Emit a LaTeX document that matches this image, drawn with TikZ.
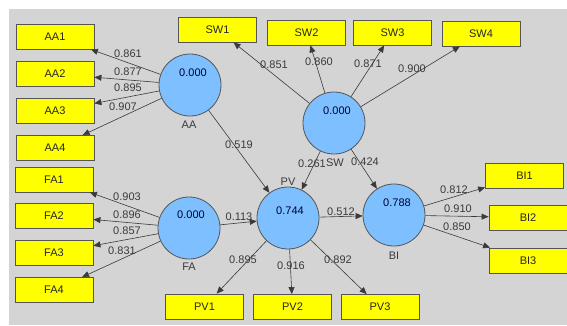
\documentclass[tikz,border=0pt]{standalone}
\usepackage{fontspec}
\setmainfont{Liberation Sans}
\usetikzlibrary{arrows.meta}
\definecolor{cbg}{HTML}{D4D4D4}
\definecolor{clv}{HTML}{7DBFFF}
\definecolor{cind}{HTML}{FFFF00}
\definecolor{cln}{HTML}{3A3A3A}
\definecolor{cbd}{HTML}{555555}
\begin{document}
\begin{tikzpicture}[x=1pt,y=-1pt,font=\fontsize{11}{13}\selectfont,
  indbox/.style={draw=cbd,fill=cind,line width=0.8pt,minimum width=78pt,minimum height=25pt,inner sep=0pt,text=black!85},
  latc/.style={circle,draw=cbd,fill=clv,line width=0.8pt,minimum size=62pt,inner sep=0pt},
  arr/.style={draw=cln,line width=0.6pt,-{Triangle[length=7pt,width=6pt]}},
  val/.style={text=cln,inner sep=0pt},
  cval/.style={text=black!80!blue,inner sep=0pt},
  lname/.style={text=cln,inner sep=0pt}]
\useasboundingbox (0,0) rectangle (567,325);
\fill[white] (0,0) rectangle (567,325);
\fill[cbg] (9,9) rectangle (567,325);
% latent variables
\node[latc] (AA) at (190,85) {};
\node[latc] (SW) at (334,123) {};
\node[latc] (FA) at (189,228) {};
\node[latc] (PV) at (288,218) {};
\node[latc] (BI) at (394,215) {};
\node[cval] (vAA) at (193,73) {0.000};
\node[cval] (vSW) at (337,111) {0.000};
\node[cval] (vFA) at (191,215) {0.000};
\node[cval] (vPV) at (290,211) {0.744};
\node[cval] (vBI) at (397,203) {0.788};
\node[lname] (nAA) at (189,125) {AA};
\node[lname] (nSW) at (335,163) {SW};
\node[lname] (nFA) at (189,267) {FA};
\node[lname] (nPV) at (288,182) {PV};
\node[lname] (nBI) at (394,256) {BI};
% indicators
\node[indbox] (AA1) at (55,36.5) {AA1};
\node[indbox] (AA2) at (55,74) {AA2};
\node[indbox] (AA3) at (55,111) {AA3};
\node[indbox] (AA4) at (55,148) {AA4};
\node[indbox] (FA1) at (54,179.5) {FA1};
\node[indbox] (FA2) at (54,216) {FA2};
\node[indbox] (FA3) at (54,253) {FA3};
\node[indbox] (FA4) at (54,290) {FA4};
\node[indbox] (SW1) at (217.5,29.5) {SW1};
\node[indbox] (SW2) at (306.5,32.5) {SW2};
\node[indbox] (SW3) at (392.5,32.5) {SW3};
\node[indbox] (SW4) at (481,33.5) {SW4};
\node[indbox] (BI1) at (524.5,175.5) {BI1};
\node[indbox] (BI2) at (528,217.5) {BI2};
\node[indbox] (BI3) at (528,260.5) {BI3};
\node[indbox] (PV1) at (204.5,306.5) {PV1};
\node[indbox] (PV2) at (292.5,307) {PV2};
\node[indbox] (PV3) at (380,307) {PV3};
% connectors
\foreach \t in {AA1,AA2,AA3,AA4}{\draw[arr] (AA) -- (\t);}
\foreach \t in {FA1,FA2,FA3,FA4}{\draw[arr] (FA) -- (\t);}
\foreach \t in {SW1,SW2,SW3,SW4}{\draw[arr] (SW) -- (\t);}
\foreach \t in {BI1,BI2,BI3}{\draw[arr] (BI) -- (\t);}
\foreach \t in {PV1,PV2,PV3}{\draw[arr] (PV) -- (\t);}
\draw[arr] (AA) -- (PV);
\draw[arr] (SW) -- (PV);
\draw[arr] (SW) -- (BI);
\draw[arr] (FA) -- (PV);
\draw[arr] (PV) -- (BI);
% loadings
\node[val] (l1) at (128,54) {0.861};
\node[val] (l2) at (128,72) {0.877};
\node[val] (l3) at (128,88) {0.895};
\node[val] (l4) at (123,107) {0.907};
\node[val] (l5) at (127,197) {0.903};
\node[val] (l6) at (127,215) {0.896};
\node[val] (l7) at (127,231) {0.857};
\node[val] (l8) at (122,251) {0.831};
\node[val] (l9) at (274,65) {0.851};
\node[val] (l10) at (319,62) {0.860};
\node[val] (l11) at (368,64) {0.871};
\node[val] (l12) at (412,69) {0.900};
\node[val] (l13) at (454,190) {0.812};
\node[val] (l14) at (458,209) {0.910};
\node[val] (l15) at (457,227) {0.850};
\node[val] (l16) at (243,260) {0.895};
\node[val] (l17) at (291,266) {0.916};
\node[val] (l18) at (338,260) {0.892};
% path coefficients
\node[val] (p1) at (239,145) {0.519};
\node[val] (p2) at (312,164) {0.261};
\node[val] (p3) at (365,162) {0.424};
\node[val] (p4) at (239,217) {0.113};
\node[val] (p5) at (341,212) {0.512};
\end{tikzpicture}
\end{document}
